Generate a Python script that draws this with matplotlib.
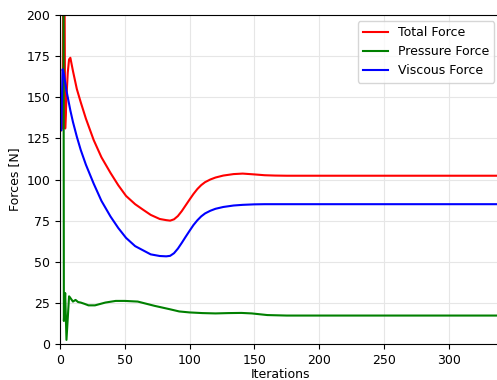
import matplotlib
matplotlib.use('Agg')
import matplotlib.pyplot as plt

plt.rcParams['font.size'] = 9

# iteration values
it_main = [1, 2, 3, 4, 5, 6, 7, 8, 10, 13, 16, 20, 26, 32, 39, 45, 51, 58, 64, 70,
           77, 82, 85, 88, 91, 94, 97, 100, 103, 106, 109, 112, 116, 120, 126, 134,
           141, 150, 158, 166, 175, 200, 250, 300, 345]
total_force = [130, 132, 300, 131, 150, 165, 173, 174, 166, 155, 147, 137, 124, 113.5,
               104, 96.5, 90, 85, 81.7, 78.5, 76, 75.3, 75, 75.8, 77.8, 80.8, 84.3,
               87.8, 91.2, 94.2, 96.6, 98.4, 100, 101.2, 102.4, 103.3, 103.6, 103.1,
               102.6, 102.4, 102.3, 102.3, 102.3, 102.3, 102.3]
viscous_force = [130, 167, 164, 159, 154, 150, 146, 142, 135, 126, 118, 109, 97.5, 87,
                 77.5, 70.5, 64.5, 59.5, 57, 54.5, 53.5, 53.3, 53.6, 55.2, 58, 61.5,
                 65.2, 68.8, 72.3, 75.2, 77.6, 79.4, 81, 82.2, 83.3, 84.2, 84.6, 84.9,
                 85, 85, 85, 85, 85, 85, 85]

it_press = [1, 3, 4, 5, 7, 8, 10, 12, 14, 16, 19, 22, 27, 35, 43, 50, 60, 73, 85, 92,
            100, 110, 120, 130, 140, 148, 160, 175, 200, 250, 300, 345]
pressure_force = [1500, 14, 31, 2.5, 29, 28, 25.8, 26.8, 25.5, 25.2, 24.4, 23.5, 23.5,
                  25.2, 26.2, 26.2, 25.8, 23.2, 21.1, 19.8, 19.2, 18.8, 18.6, 18.8,
                  18.9, 18.6, 17.6, 17.3, 17.3, 17.3, 17.3, 17.3]

fig = plt.figure(figsize=(4.97, 3.80), dpi=100)
ax = fig.add_axes([0.1207, 0.0947, 0.8864, 0.8658])

ax.plot(it_main, total_force, color='red', lw=1.5, label='Total Force')
ax.plot(it_press, pressure_force, color='green', lw=1.5, label='Pressure Force')
ax.plot(it_main, viscous_force, color='blue', lw=1.5, label='Viscous Force')

ax.set_xlim(0, 340)
ax.set_ylim(0, 200)
ax.set_xticks([0, 50, 100, 150, 200, 250, 300])
ax.set_yticks([0, 25, 50, 75, 100, 125, 150, 175, 200])
ax.grid(True, color='#e6e6e6', lw=0.8)
ax.set_axisbelow(True)
ax.set_xlabel('Iterations', labelpad=1)
ax.set_ylabel('Forces [N]')

ax.legend(loc='upper right', bbox_to_anchor=(494 / 497, 1 - 21 / 380),
          bbox_transform=fig.transFigure, borderaxespad=0)

fig.savefig('out.png', dpi=100)
